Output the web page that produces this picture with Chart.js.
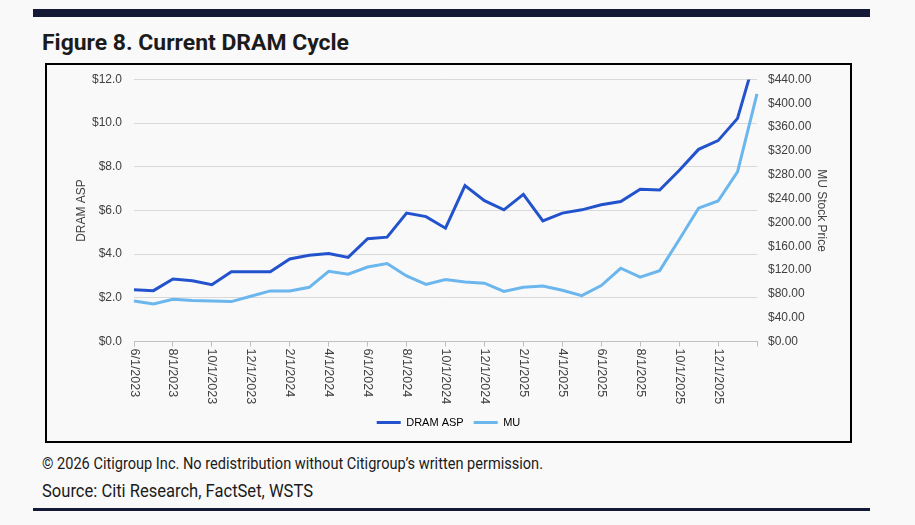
<!DOCTYPE html>
<html>
<head>
<meta charset="utf-8">
<script src="https://cdn.jsdelivr.net/npm/chart.js@4.4.1/dist/chart.umd.min.js"></script>
<style>
  html, body { margin: 0; padding: 0; background: #f9f9fa; }
  body { width: 915px; height: 525px; position: relative; overflow: hidden; }
  .bar { position: absolute; left: 33px; width: 837px; background: #141a36; }
  .txt { position: absolute; left: 42px; white-space: nowrap; font-family: Roboto, "Liberation Sans", sans-serif; color: #1b1b1b; transform-origin: 0 50%; }
  #title { top: 31.5px; font-size: 22px; line-height: 22px; font-weight: 700; }
  #copy { top: 456px; font-size: 16.5px; line-height: 16.5px; }
  #src { top: 481px; font-size: 19px; line-height: 19px; }
  #box { position: absolute; left: 45px; top: 63px; width: 803px; height: 376px; border: 2px solid #000; background: #f9f9fa; }
  #c { display: block; }
</style>
</head>
<body>
<div class="bar" style="top:9px;height:8px;"></div>
<div class="txt" id="title" data-w="307">Figure 8. Current DRAM Cycle</div>
<div id="box"><canvas id="c" width="803" height="376"></canvas></div>
<div class="txt" id="copy" data-w="501">© 2026 Citigroup Inc. No redistribution without Citigroup’s written permission.</div>
<div class="txt" id="src" data-w="271">Source: Citi Research, FactSet, WSTS</div>
<div class="bar" style="top:508px;height:3px;"></div>
<script>
// ---- data ----
const categories = ["6/1/2023","7/1/2023","8/1/2023","9/1/2023","10/1/2023","11/1/2023","12/1/2023",
  "1/1/2024","2/1/2024","3/1/2024","4/1/2024","5/1/2024","6/1/2024","7/1/2024","8/1/2024","9/1/2024",
  "10/1/2024","11/1/2024","12/1/2024","1/1/2025","2/1/2025","3/1/2025","4/1/2025","5/1/2025","6/1/2025",
  "7/1/2025","8/1/2025","9/1/2025","10/1/2025","11/1/2025","12/1/2025","1/1/2026","2/1/2026"];
const dramAsp = [2.37,2.33,2.86,2.78,2.60,3.20,3.20,3.20,3.78,3.95,4.03,3.85,4.71,4.78,5.88,5.72,5.19,
  7.14,6.45,6.03,6.74,5.52,5.88,6.03,6.26,6.41,6.97,6.94,7.83,8.80,9.20,10.22,13.30];
const muPrice = [68,63,71,69,68,67,76,85,85,91,118,113,125,131,110,96,104,100,98,84,91,93,86,77,94,
  123,108,119,171,224,236,285,416];
const leftTicks = [0,2,4,6,8,10,12];
const rightTicks = [0,40,80,120,160,200,240,280,320,360,400,440];
const seriesNames = ["DRAM ASP","MU"];
const axisTitles = ["DRAM ASP","MU Stock Price"];

// ---- fit condensed text widths ----
document.querySelectorAll('.txt').forEach(el => {
  const w = el.getBoundingClientRect().width;
  const target = +el.dataset.w;
  el.style.transform = 'scaleX(' + (target / w) + ')';
});

const FONT = '"Liberation Sans", Arial, sans-serif';
const TXT = '#404040';

const xLabelPlugin = {
  id: 'xLabels',
  afterDraw(chart) {
    const sc = chart.scales.x;
    const ctx = chart.ctx;
    ctx.save();
    ctx.fillStyle = TXT;
    ctx.font = '12.5px ' + FONT;
    ctx.textAlign = 'left';
    ctx.textBaseline = 'middle';
    categories.forEach((lab, i) => {
      if (i % 2 !== 0 || i === categories.length - 1) return;
      const x = sc.getPixelForTick(i);
      ctx.save();
      ctx.translate(x, sc.top + 7);
      ctx.rotate(Math.PI / 2);
      ctx.fillText(lab, 0, 0);
      ctx.restore();
    });
    ctx.restore();
  }
};

Chart.defaults.font.family = FONT;
Chart.defaults.font.size = 12;
Chart.defaults.color = TXT;

new Chart(document.getElementById('c'), {
  type: 'line',
  data: {
    labels: categories,
    datasets: [
      { label: seriesNames[0], data: dramAsp, yAxisID: 'y', borderColor: '#2353cc', backgroundColor: '#2353cc',
        borderWidth: 3, pointRadius: 0, tension: 0, clip: {left: 2, top: 0, right: 2, bottom: 2} },
      { label: seriesNames[1], data: muPrice, yAxisID: 'y1', borderColor: '#6cb6ee', backgroundColor: '#6cb6ee',
        borderWidth: 3, pointRadius: 0, tension: 0 }
    ]
  },
  options: {
    responsive: false,
    animation: false,
    layout: { padding: { top: 14.5, bottom: 3, left: 0, right: 0 } },
    plugins: {
      legend: {
        position: 'bottom',
        labels: {
          boxWidth: 24, boxHeight: 3, padding: 10, color: TXT, font: { size: 11 },
          generateLabels(chart) {
            return chart.data.datasets.map((d, i) => ({
              text: d.label, fillStyle: d.borderColor, strokeStyle: d.borderColor, lineWidth: 0,
              hidden: false, datasetIndex: i
            }));
          }
        }
      },
      tooltip: { enabled: false }
    },
    scales: {
      x: {
        type: 'category',
        offset: false,
        afterFit(s) { s.height = 65.5; },
        grid: { drawOnChartArea: false, drawTicks: true, tickLength: 5,
          color: c => (c.index % 2 === 0 ? '#bfbfbf' : 'rgba(0,0,0,0)') },
        border: { display: true, color: '#bfbfbf', width: 1 },
        ticks: { autoSkip: false, maxRotation: 90, minRotation: 90, color: 'rgba(0,0,0,0)',
          callback: (v, i) => (i % 2 === 0 ? categories[i] : '') }
      },
      y: {
        position: 'left', min: 0, max: 12,
        afterFit(s) { s.width = 87; s.paddingTop = 0; s.paddingBottom = 0; },
        afterBuildTicks(s) { s.ticks = leftTicks.map(v => ({ value: v })); },
        grid: { color: '#d9d9d9', drawTicks: false },
        border: { display: false },
        ticks: { padding: 12, callback: v => '$' + Number(v).toFixed(1) },
        title: { display: true, text: axisTitles[0], padding: { top: 27, bottom: 0 }, font: { size: 12 } }
      },
      y1: {
        position: 'right', min: 0, max: 440,
        afterFit(s) { s.width = 93; s.paddingTop = 0; s.paddingBottom = 0; },
        afterBuildTicks(s) { s.ticks = rightTicks.map(v => ({ value: v })); },
        grid: { drawOnChartArea: false, drawTicks: false },
        border: { display: false },
        ticks: { padding: 11, callback: v => '$' + Number(v).toFixed(2) },
        title: { display: true, text: axisTitles[1], padding: { top: 21, bottom: 0 }, font: { size: 12 } }
      }
    }
  },
  plugins: [xLabelPlugin]
});
</script>
</body>
</html>
